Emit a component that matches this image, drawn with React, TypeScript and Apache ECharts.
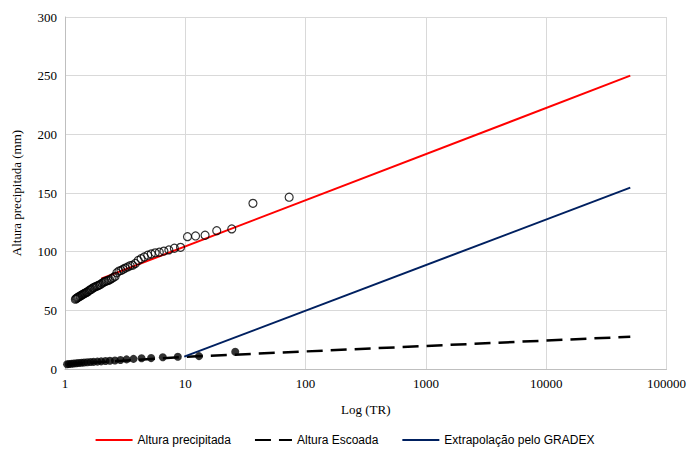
import React, { useEffect, useRef } from "react";
import * as echarts from "echarts";

// Observed rainfall (hollow circles): return period and height (mm)
const chuvaTR = [73, 36.5, 24.33, 18.25, 14.6, 12.17, 10.43, 9.13, 8.11, 7.3, 6.64, 6.08, 5.62, 5.21, 4.87, 4.56, 4.29, 4.06, 3.84, 3.65, 3.48, 3.32, 3.17, 3.04, 2.92, 2.81, 2.7, 2.61, 2.52, 2.43, 2.35, 2.28, 2.21, 2.15, 2.09, 2.03, 1.97, 1.92, 1.87, 1.83, 1.78, 1.74, 1.7, 1.66, 1.62, 1.59, 1.55, 1.52, 1.49, 1.46, 1.43, 1.4, 1.38, 1.35, 1.33, 1.3, 1.28, 1.26, 1.24, 1.22];
const chuvaMM = [146.4, 141.2, 119.4, 117.9, 114, 113.4, 112.8, 103.7, 102.9, 101.5, 100.5, 99.5, 99, 98, 97, 95.5, 94, 92.5, 90, 88.5, 88, 87, 86, 85, 84, 83.5, 82, 79, 78, 77, 76, 75.5, 75, 74.5, 74, 73, 72, 71.5, 71, 70.5, 70, 69.5, 69, 68, 67.5, 67, 66, 65.5, 65, 64.5, 64, 63.5, 63, 62.5, 62, 61.5, 61, 60.5, 60, 59.5];

// Observed runoff (filled dots)
const escoadaTR = [26, 13, 8.67, 6.5, 5.2, 4.33, 3.71, 3.25, 2.89, 2.6, 2.36, 2.17, 2.0, 1.86, 1.73, 1.63, 1.53, 1.44, 1.37, 1.3, 1.24, 1.18, 1.13, 1.08, 1.04];
const escoadaMM = [14.7, 11, 10.5, 10, 9.3, 9.1, 8.6, 8.2, 7.7, 7.2, 7, 6.8, 6.5, 6.3, 6.1, 5.9, 5.7, 5.5, 5.3, 5.1, 4.9, 4.7, 4.5, 4.3, 4.1];

// Fitted / extrapolated lines
const precipLineTR = [2, 50000];
const precipLineMM = [77, 250];
const escoadaLineTR = [1.04, 9.8, 50000];
const escoadaLineMM = [4.1, 10.3, 27.5];
const gradexLineTR = [9.8, 50000];
const gradexLineMM = [10.5, 154.6];

const seriesNames = ["Altura precipitada", "Altura Escoada", "Extrapolação pelo GRADEX"];

const zip = (xs: number[], ys: number[]) => xs.map((x, i) => [x, ys[i]]);

export default function App() {
  const ref = useRef<HTMLDivElement>(null);
  useEffect(() => {
    if (!ref.current) return;
    const chart = echarts.init(ref.current, null, { renderer: "svg" });
    const serif = "Liberation Serif";
    chart.setOption({
      animation: false,
      grid: { left: 65, right: 19, top: 17, bottom: 80 },
      xAxis: {
        type: "log",
        logBase: 10,
        min: 1,
        max: 100000,
        name: "Log (TR)",
        nameLocation: "middle",
        nameGap: 34,
        nameTextStyle: { fontFamily: serif, fontSize: 13, color: "#000" },
        axisLine: { show: true, lineStyle: { color: "#bfbfbf", width: 1 } },
        axisTick: { show: false },
        minorTick: { show: false },
        axisLabel: {
          fontFamily: serif,
          fontSize: 13,
          color: "#000",
          margin: 8,
          formatter: (v: number) => String(Math.round(v)),
        },
        splitLine: { show: true, lineStyle: { color: "#d9d9d9", width: 1 } },
      },
      yAxis: {
        type: "value",
        min: 0,
        max: 300,
        interval: 50,
        name: "Altura precipitada (mm)",
        nameLocation: "middle",
        nameGap: 42,
        nameTextStyle: { fontFamily: serif, fontSize: 13, color: "#000" },
        axisLine: { show: true, lineStyle: { color: "#bfbfbf", width: 1 } },
        axisTick: { show: false },
        axisLabel: { fontFamily: serif, fontSize: 13, color: "#000", margin: 8 },
        splitLine: { show: true, lineStyle: { color: "#d9d9d9", width: 1 } },
      },
      legend: {
        data: seriesNames,
        top: 434,
        left: "center",
        itemWidth: 37,
        itemHeight: 10,
        itemGap: 23,
        padding: 0,
        itemStyle: { opacity: 0 },
        textStyle: { fontFamily: "Liberation Sans", fontSize: 12, color: "#000" },
      },
      series: [
        {
          name: seriesNames[0],
          type: "line",
          symbol: "none",
          data: zip(precipLineTR, precipLineMM),
          lineStyle: { color: "#ff0000", width: 2 },
          itemStyle: { color: "#ff0000" },
          z: 2,
        },
        {
          name: seriesNames[1],
          type: "line",
          symbol: "none",
          data: zip(escoadaLineTR, escoadaLineMM),
          lineStyle: { color: "#000000", width: 2.5, type: [16, 8] },
          itemStyle: { color: "#000000" },
          z: 2,
        },
        {
          name: seriesNames[2],
          type: "line",
          symbol: "none",
          data: zip(gradexLineTR, gradexLineMM),
          lineStyle: { color: "#002060", width: 2 },
          itemStyle: { color: "#002060" },
          z: 2,
        },
        {
          name: "chuva",
          type: "scatter",
          symbol: "circle",
          symbolSize: 8,
          data: zip(chuvaTR, chuvaMM),
          itemStyle: { color: "rgba(255,255,255,0)", borderColor: "#000", borderWidth: 1.2 },
          z: 3,
        },
        {
          name: "escoada",
          type: "scatter",
          symbol: "circle",
          symbolSize: 8,
          data: zip(escoadaTR, escoadaMM),
          itemStyle: { color: "#000" },
          z: 3,
        },
      ],
    });
    return () => chart.dispose();
  }, []);
  return (
    <div
      ref={ref}
      style={{ position: "fixed", left: 0, top: 0, width: 689, height: 449, background: "#fff" }}
    />
  );
}
